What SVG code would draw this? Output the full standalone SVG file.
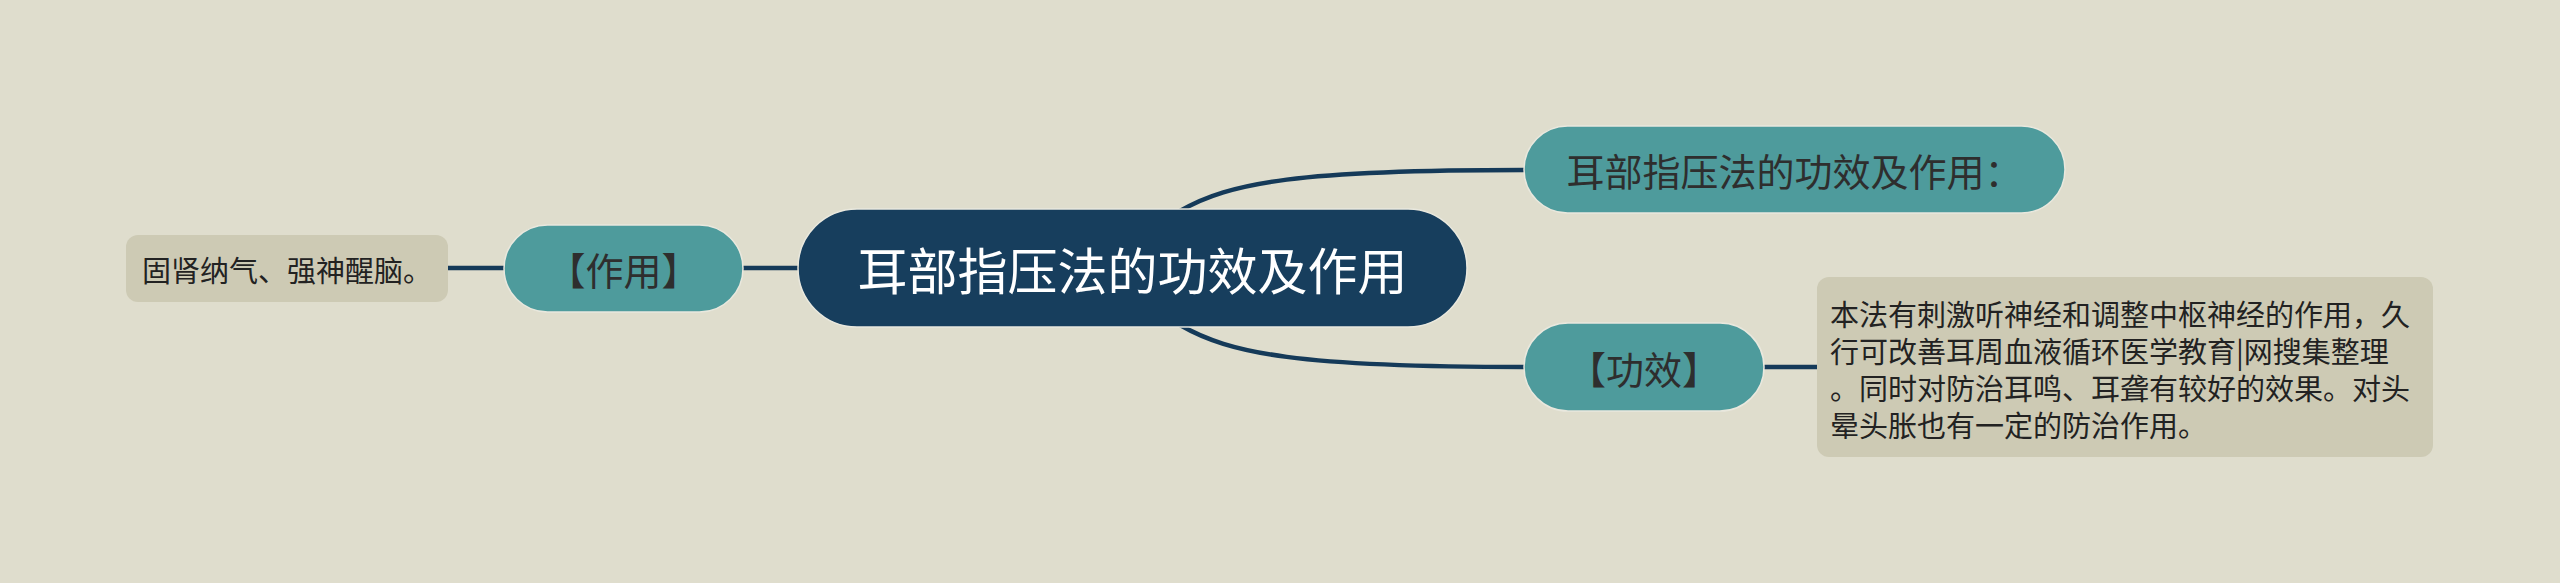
<svg xmlns="http://www.w3.org/2000/svg" width="2560" height="583" viewBox="0 0 2560 583">
<style>
.bg{fill:#dfddcd}
.root{fill:#173e5d;stroke:#e9e8de;stroke-width:1.5}
.topic{fill:#4e9b9c;stroke:#e9e8de;stroke-width:1.5}
.note{fill:#cdcab4}
.conn{fill:none;stroke:#153a59;stroke-width:4.5}
text{font-family:"Noto Sans CJK SC","Noto Sans",sans-serif;dominant-baseline:central}
.t-root{fill:#ffffff;font-size:50px;text-anchor:middle}
.t-topic{fill:#2e2e2e;font-size:38px;text-anchor:middle}
.t-note{fill:#222222;font-size:29px}
</style>
<rect class="bg" x="0" y="0" width="2560" height="583"/>
<g id="connectors">
<path class="conn" d="M1180,211 C1230,182 1300,170 1524,170"/>
<path class="conn" d="M1180,325 C1230,354 1300,367 1524,367"/>
<path class="conn" d="M1764,367 L1818,367"/>
<path class="conn" d="M798,268 L743,268"/>
<path class="conn" d="M504,268 L448,268"/>
</g>
<g id="root">
<rect class="root" x="798" y="209" width="669" height="118" rx="59"/>
<text class="t-root" x="1132.5" y="268">耳部指压法的功效及作用</text>
</g>
<g id="node-summary">
<rect class="topic" x="1524" y="126" width="541" height="87" rx="43.5"/>
<text class="t-topic" x="1794.5" y="169.5">耳部指压法的功效及作用：</text>
</g>
<g id="node-gongxiao">
<rect class="topic" x="1524" y="323" width="240" height="88" rx="44"/>
<text class="t-topic" x="1644" y="367">【功效】</text>
</g>
<g id="note-gongxiao">
<rect class="note" x="1817" y="277" width="616" height="180" rx="12"/>
<text class="t-note" x="1830" y="313">本法有刺激听神经和调整中枢神经的作用，久</text>
<text class="t-note" x="1830" y="350">行可改善耳周血液循环医学教育|网搜集整理</text>
<text class="t-note" x="1830" y="387">。同时对防治耳鸣、耳聋有较好的效果。对头</text>
<text class="t-note" x="1830" y="424">晕头胀也有一定的防治作用。</text>
</g>
<g id="node-zuoyong">
<rect class="topic" x="504" y="225" width="239" height="87" rx="43.5"/>
<text class="t-topic" x="623.5" y="268">【作用】</text>
</g>
<g id="note-zuoyong">
<rect class="note" x="126" y="235" width="322" height="67" rx="12"/>
<text class="t-note" x="142" y="269">固肾纳气、强神醒脑。</text>
</g>
</svg>
